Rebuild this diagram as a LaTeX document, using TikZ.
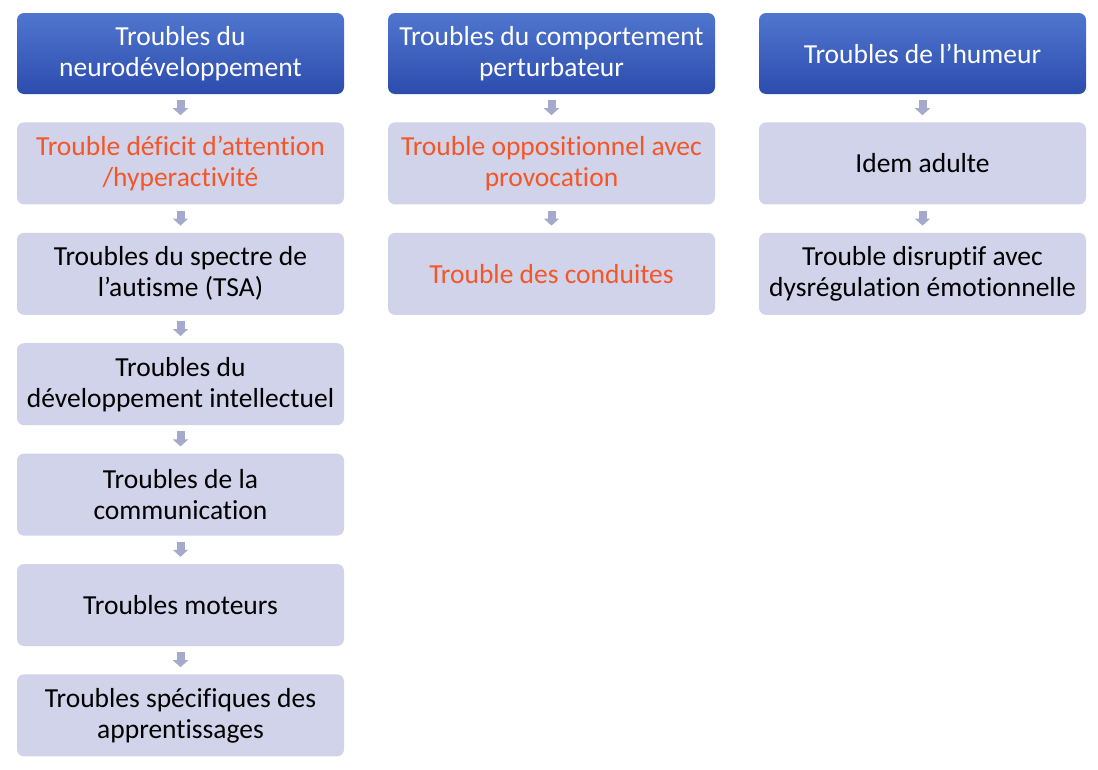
\documentclass[tikz,border=0pt]{standalone}
\usepackage{fontspec}
\setmainfont{Carlito}[Ligatures={NoCommon}]
\usepackage{tikz}
\usetikzlibrary{arrows.meta,positioning,calc}
\definecolor{headTop}{RGB}{80,118,206}
\definecolor{headBot}{RGB}{44,76,174}
\definecolor{boxFill}{RGB}{208,211,233}
\definecolor{linkGrey}{RGB}{165,170,204}
\definecolor{redText}{RGB}{244,86,40}
\tikzset{
  headbox/.style={rounded corners=7pt,top color=headTop,bottom color=headBot,
    minimum width=327pt,minimum height=81pt,inner sep=0pt,align=center,
    text=white,font=\fontsize{27.5}{31}\selectfont},
  itembox/.style={rounded corners=7pt,fill=boxFill,
    minimum width=327pt,minimum height=82pt,inner sep=0pt,align=center,
    text=black,font=\fontsize{27.5}{31}\selectfont},
  hot/.style={text=redText},
  blocklink/.style={draw=linkGrey,line width=8pt,shorten <=6pt,shorten >=7pt,
    -{Triangle[width=15pt,length=7pt]}}
}
\newcommand{\arrowlink}[2]{\draw[blocklink] (#1.south) -- (#2.north);}

\begin{document}
\begin{tikzpicture}[x=1pt,y=1pt,node distance=28pt]
\useasboundingbox (0,0) rectangle (1098,-769);
% column 1
\node[headbox] (neuro) at (180.5,-53.5) {Troubles du\\neurodéveloppement};
\node[itembox,hot,below=of neuro] (tdah) {Trouble déficit d’attention\\/hyperactivité};
\node[itembox,below=of tdah] (tsa) {Troubles du spectre de\\l’autisme (TSA)};
\node[itembox,below=of tsa] (tdi) {Troubles du\\développement intellectuel};
\node[itembox,below=of tdi] (comm) {Troubles de la\\communication};
\node[itembox,below=of comm] (mot) {Troubles moteurs};
\node[itembox,below=of mot] (appr) {Troubles spécifiques des\\apprentissages};
% column 2
\node[headbox] (compo) at (551.5,-53.5) {Troubles du comportement\\perturbateur};
\node[itembox,hot,below=of compo] (top) {Trouble oppositionnel avec\\provocation};
\node[itembox,hot,below=of top] (cond) {Trouble des conduites};
% column 3
\node[headbox] (humeur) at (922.5,-53.5) {Troubles de l’humeur};
\node[itembox,below=of humeur] (idem) {Idem adulte};
\node[itembox,below=of idem] (disr) {Trouble disruptif avec\\dysrégulation émotionnelle};
\arrowlink{neuro}{tdah}\arrowlink{tdah}{tsa}\arrowlink{tsa}{tdi}
\arrowlink{tdi}{comm}\arrowlink{comm}{mot}\arrowlink{mot}{appr}
\arrowlink{compo}{top}\arrowlink{top}{cond}
\arrowlink{humeur}{idem}\arrowlink{idem}{disr}
\end{tikzpicture}
\end{document}
